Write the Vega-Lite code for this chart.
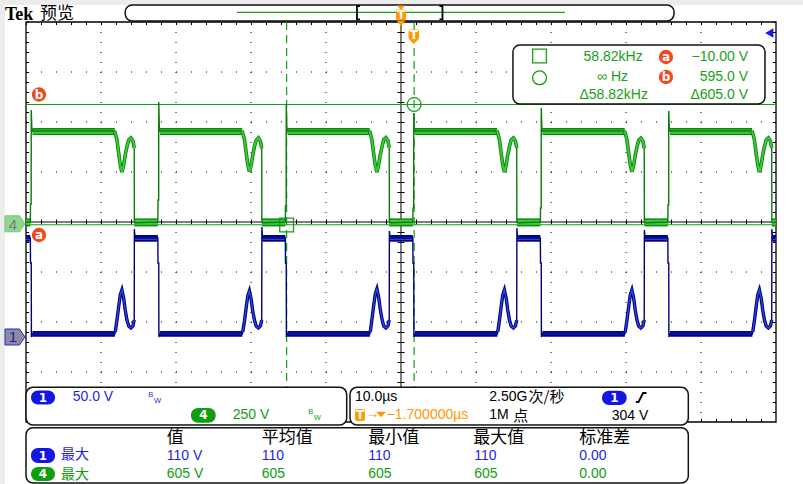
{
"$schema":"https://vega.github.io/schema/vega-lite/v6.json",
"width":803,"height":484,"padding":0,"autosize":{"type":"none"},
"background":"#ffffff",
"config":{"view":{"stroke":null},"axis":{"disable":true},"legend":{"disable":true}},
"resolve":{"scale":{"y":"independent","strokeWidth":"independent","size":"independent","color":"independent","fill":"independent","stroke":"independent"}},
"datasets":{
"g":[{"t":-50,"v":0},
{"t":-49.42,"v":0},{"t":-49.4,"v":90},{"t":-49.31,"v":90},{"t":-49.3,"v":560},{"t":-49.22,"v":470},{"t":-49.12,"v":455},
{"t":-38.2,"v":455,"p":0,"dip":1},{"t":-38.1,"v":445,"p":0,"dip":1},{"t":-37.87,"v":410,"p":0,"dip":1},{"t":-37.65,"v":345,"p":0,"dip":1},{"t":-37.43,"v":285,"p":0,"dip":1},{"t":-37.21,"v":250,"p":0,"dip":1},{"t":-36.98,"v":285,"p":0,"dip":1},{"t":-36.77,"v":335,"p":0,"dip":1},{"t":-36.54,"v":377,"p":0,"dip":1},{"t":-36.31,"v":410,"p":0,"dip":1},{"t":-36.01,"v":420,"p":0,"dip":1},{"t":-35.74,"v":405,"p":0,"dip":1},{"t":-35.57,"v":370,"p":0,"dip":1},
{"t":-35.55,"v":0},{"t":-35.4,"v":-4},
{"t":-32.42,"v":0},{"t":-32.4,"v":110},{"t":-32.31,"v":110},{"t":-32.3,"v":600},{"t":-32.22,"v":470},{"t":-32.12,"v":455},
{"t":-21.2,"v":455,"p":1,"dip":1},{"t":-21.1,"v":445,"p":1,"dip":1},{"t":-20.87,"v":412,"p":1,"dip":1},{"t":-20.65,"v":348,"p":1,"dip":1},{"t":-20.43,"v":288,"p":1,"dip":1},{"t":-20.21,"v":252,"p":1,"dip":1},{"t":-19.98,"v":283,"p":1,"dip":1},{"t":-19.77,"v":333,"p":1,"dip":1},{"t":-19.54,"v":378,"p":1,"dip":1},{"t":-19.31,"v":408,"p":1,"dip":1},{"t":-19.01,"v":420,"p":1,"dip":1},{"t":-18.74,"v":404,"p":1,"dip":1},{"t":-18.57,"v":368,"p":1,"dip":1},
{"t":-18.55,"v":0},{"t":-18.4,"v":-4},
{"t":-15.42,"v":0},{"t":-15.4,"v":80},{"t":-15.31,"v":80},{"t":-15.3,"v":590},{"t":-15.22,"v":470},{"t":-15.12,"v":455},
{"t":-4.2,"v":455,"p":2,"dip":1},{"t":-4.1,"v":445,"p":2,"dip":1},{"t":-3.87,"v":408,"p":2,"dip":1},{"t":-3.65,"v":343,"p":2,"dip":1},{"t":-3.43,"v":284,"p":2,"dip":1},{"t":-3.21,"v":249,"p":2,"dip":1},{"t":-2.98,"v":286,"p":2,"dip":1},{"t":-2.77,"v":336,"p":2,"dip":1},{"t":-2.54,"v":376,"p":2,"dip":1},{"t":-2.31,"v":411,"p":2,"dip":1},{"t":-2.01,"v":421,"p":2,"dip":1},{"t":-1.74,"v":406,"p":2,"dip":1},{"t":-1.57,"v":371,"p":2,"dip":1},
{"t":-1.55,"v":0},{"t":-1.4,"v":-4},
{"t":1.58,"v":0},{"t":1.6,"v":70},{"t":1.69,"v":70},{"t":1.7,"v":545},{"t":1.78,"v":470},{"t":1.88,"v":455},
{"t":12.8,"v":455,"p":3,"dip":1},{"t":12.9,"v":445,"p":3,"dip":1},{"t":13.13,"v":410,"p":3,"dip":1},{"t":13.35,"v":345,"p":3,"dip":1},{"t":13.57,"v":285,"p":3,"dip":1},{"t":13.79,"v":250,"p":3,"dip":1},{"t":14.02,"v":285,"p":3,"dip":1},{"t":14.23,"v":335,"p":3,"dip":1},{"t":14.46,"v":377,"p":3,"dip":1},{"t":14.69,"v":410,"p":3,"dip":1},{"t":14.99,"v":420,"p":3,"dip":1},{"t":15.26,"v":405,"p":3,"dip":1},{"t":15.43,"v":370,"p":3,"dip":1},
{"t":15.45,"v":0},{"t":15.6,"v":-4},
{"t":18.58,"v":0},{"t":18.6,"v":70},{"t":18.69,"v":70},{"t":18.7,"v":570},{"t":18.78,"v":470},{"t":18.88,"v":455},
{"t":29.8,"v":455,"p":4,"dip":1},{"t":29.9,"v":445,"p":4,"dip":1},{"t":30.13,"v":411,"p":4,"dip":1},{"t":30.35,"v":346,"p":4,"dip":1},{"t":30.57,"v":287,"p":4,"dip":1},{"t":30.79,"v":251,"p":4,"dip":1},{"t":31.02,"v":284,"p":4,"dip":1},{"t":31.23,"v":334,"p":4,"dip":1},{"t":31.46,"v":376,"p":4,"dip":1},{"t":31.69,"v":409,"p":4,"dip":1},{"t":31.99,"v":419,"p":4,"dip":1},{"t":32.26,"v":404,"p":4,"dip":1},{"t":32.43,"v":369,"p":4,"dip":1},
{"t":32.45,"v":0},{"t":32.6,"v":-4},
{"t":35.58,"v":0},{"t":35.6,"v":85},{"t":35.69,"v":85},{"t":35.7,"v":555},{"t":35.78,"v":470},{"t":35.88,"v":455},
{"t":46.8,"v":455,"p":5,"dip":1},{"t":46.9,"v":445,"p":5,"dip":1},{"t":47.13,"v":409,"p":5,"dip":1},{"t":47.35,"v":344,"p":5,"dip":1},{"t":47.57,"v":286,"p":5,"dip":1},{"t":47.79,"v":250,"p":5,"dip":1},{"t":48.02,"v":285,"p":5,"dip":1},{"t":48.23,"v":335,"p":5,"dip":1},{"t":48.46,"v":377,"p":5,"dip":1},{"t":48.69,"v":410,"p":5,"dip":1},{"t":48.99,"v":420,"p":5,"dip":1},{"t":49.26,"v":405,"p":5,"dip":1},{"t":49.43,"v":370,"p":5,"dip":1},
{"t":49.45,"v":0},{"t":49.6,"v":-4},{"t":50,"v":0}],
"b":[{"t":-50,"v":99},
{"t":-49.42,"v":99},{"t":-49.4,"v":74},{"t":-49.3,"v":74},{"t":-49.28,"v":0},{"t":-49.2,"v":2},{"t":-49.12,"v":3},{"t":-38.15,"v":3},
{"t":-38.1,"v":5,"p":0,"dip":1},{"t":-37.87,"v":17,"p":0,"dip":1},{"t":-37.65,"v":30,"p":0,"dip":1},{"t":-37.43,"v":42,"p":0,"dip":1},{"t":-37.21,"v":47,"p":0,"dip":1},{"t":-36.98,"v":39,"p":0,"dip":1},{"t":-36.77,"v":27,"p":0,"dip":1},{"t":-36.54,"v":17,"p":0,"dip":1},{"t":-36.31,"v":11,"p":0,"dip":1},{"t":-36.01,"v":9,"p":0,"dip":1},{"t":-35.74,"v":11,"p":0,"dip":1},{"t":-35.57,"v":17,"p":0,"dip":1},
{"t":-35.55,"v":108},{"t":-35.48,"v":101},{"t":-35.35,"v":99},
{"t":-32.42,"v":99},{"t":-32.4,"v":74},{"t":-32.3,"v":74},{"t":-32.28,"v":0},{"t":-32.2,"v":2},{"t":-32.12,"v":3},{"t":-21.15,"v":3},
{"t":-21.1,"v":5,"p":1,"dip":1},{"t":-20.87,"v":16,"p":1,"dip":1},{"t":-20.65,"v":29,"p":1,"dip":1},{"t":-20.43,"v":41,"p":1,"dip":1},{"t":-20.21,"v":46,"p":1,"dip":1},{"t":-19.98,"v":38,"p":1,"dip":1},{"t":-19.77,"v":26,"p":1,"dip":1},{"t":-19.54,"v":17,"p":1,"dip":1},{"t":-19.31,"v":11,"p":1,"dip":1},{"t":-19.01,"v":9,"p":1,"dip":1},{"t":-18.74,"v":11,"p":1,"dip":1},{"t":-18.57,"v":17,"p":1,"dip":1},
{"t":-18.55,"v":110},{"t":-18.48,"v":101},{"t":-18.35,"v":99},
{"t":-15.42,"v":99},{"t":-15.4,"v":74},{"t":-15.3,"v":74},{"t":-15.28,"v":0},{"t":-15.2,"v":2},{"t":-15.12,"v":3},{"t":-4.15,"v":3},
{"t":-4.1,"v":5,"p":2,"dip":1},{"t":-3.87,"v":18,"p":2,"dip":1},{"t":-3.65,"v":31,"p":2,"dip":1},{"t":-3.43,"v":43,"p":2,"dip":1},{"t":-3.21,"v":48,"p":2,"dip":1},{"t":-2.98,"v":40,"p":2,"dip":1},{"t":-2.77,"v":28,"p":2,"dip":1},{"t":-2.54,"v":18,"p":2,"dip":1},{"t":-2.31,"v":11,"p":2,"dip":1},{"t":-2.01,"v":9,"p":2,"dip":1},{"t":-1.74,"v":11,"p":2,"dip":1},{"t":-1.57,"v":17,"p":2,"dip":1},
{"t":-1.55,"v":106},{"t":-1.48,"v":101},{"t":-1.35,"v":99},
{"t":1.58,"v":99},{"t":1.6,"v":74},{"t":1.7,"v":74},{"t":1.72,"v":0},{"t":1.8,"v":2},{"t":1.88,"v":3},{"t":12.85,"v":3},
{"t":12.9,"v":5,"p":3,"dip":1},{"t":13.13,"v":17,"p":3,"dip":1},{"t":13.35,"v":30,"p":3,"dip":1},{"t":13.57,"v":42,"p":3,"dip":1},{"t":13.79,"v":47,"p":3,"dip":1},{"t":14.02,"v":39,"p":3,"dip":1},{"t":14.23,"v":27,"p":3,"dip":1},{"t":14.46,"v":17,"p":3,"dip":1},{"t":14.69,"v":11,"p":3,"dip":1},{"t":14.99,"v":9,"p":3,"dip":1},{"t":15.26,"v":11,"p":3,"dip":1},{"t":15.43,"v":17,"p":3,"dip":1},
{"t":15.45,"v":109},{"t":15.52,"v":101},{"t":15.65,"v":99},
{"t":18.58,"v":99},{"t":18.6,"v":74},{"t":18.7,"v":74},{"t":18.72,"v":0},{"t":18.8,"v":2},{"t":18.88,"v":3},{"t":29.85,"v":3},
{"t":29.9,"v":5,"p":4,"dip":1},{"t":30.13,"v":17,"p":4,"dip":1},{"t":30.35,"v":30,"p":4,"dip":1},{"t":30.57,"v":42,"p":4,"dip":1},{"t":30.79,"v":47,"p":4,"dip":1},{"t":31.02,"v":39,"p":4,"dip":1},{"t":31.23,"v":27,"p":4,"dip":1},{"t":31.46,"v":17,"p":4,"dip":1},{"t":31.69,"v":11,"p":4,"dip":1},{"t":31.99,"v":9,"p":4,"dip":1},{"t":32.26,"v":11,"p":4,"dip":1},{"t":32.43,"v":17,"p":4,"dip":1},
{"t":32.45,"v":107},{"t":32.52,"v":101},{"t":32.65,"v":99},
{"t":35.58,"v":99},{"t":35.6,"v":74},{"t":35.7,"v":74},{"t":35.72,"v":0},{"t":35.8,"v":2},{"t":35.88,"v":3},{"t":46.85,"v":3},
{"t":46.9,"v":5,"p":5,"dip":1},{"t":47.13,"v":17,"p":5,"dip":1},{"t":47.35,"v":30,"p":5,"dip":1},{"t":47.57,"v":42,"p":5,"dip":1},{"t":47.79,"v":47,"p":5,"dip":1},{"t":48.02,"v":39,"p":5,"dip":1},{"t":48.23,"v":27,"p":5,"dip":1},{"t":48.46,"v":17,"p":5,"dip":1},{"t":48.69,"v":11,"p":5,"dip":1},{"t":48.99,"v":9,"p":5,"dip":1},{"t":49.26,"v":11,"p":5,"dip":1},{"t":49.43,"v":17,"p":5,"dip":1},
{"t":49.45,"v":108},{"t":49.52,"v":101},{"t":49.65,"v":99},{"t":50,"v":99}],
"gb":[
{"t1":-49.12,"t2":-38.18,"lo":435,"hi":470,"ilo":441,"ihi":463},
{"t1":-32.12,"t2":-21.18,"lo":435,"hi":470,"ilo":441,"ihi":463},
{"t1":-15.12,"t2":-4.18,"lo":435,"hi":470,"ilo":441,"ihi":463},
{"t1":1.88,"t2":12.82,"lo":435,"hi":470,"ilo":441,"ihi":463},
{"t1":18.88,"t2":29.82,"lo":435,"hi":470,"ilo":441,"ihi":463},
{"t1":35.88,"t2":46.82,"lo":435,"hi":470,"ilo":441,"ihi":463},
{"t1":-50,"t2":-49.42,"lo":-22,"hi":18,"ilo":-14,"ihi":11},
{"t1":-35.55,"t2":-32.42,"lo":-22,"hi":18,"ilo":-14,"ihi":11},
{"t1":-18.55,"t2":-15.42,"lo":-22,"hi":18,"ilo":-14,"ihi":11},
{"t1":-1.55,"t2":1.58,"lo":-22,"hi":18,"ilo":-14,"ihi":11},
{"t1":15.45,"t2":18.58,"lo":-22,"hi":18,"ilo":-14,"ihi":11},
{"t1":32.45,"t2":35.58,"lo":-22,"hi":18,"ilo":-14,"ihi":11},
{"t1":49.45,"t2":50,"lo":-22,"hi":18,"ilo":-14,"ihi":11}],
"bb":[
{"t1":-49.15,"t2":-38.15,"lo":0.3,"hi":6,"ilo":2,"ihi":4.3},
{"t1":-32.15,"t2":-21.15,"lo":0.3,"hi":6,"ilo":2,"ihi":4.3},
{"t1":-15.15,"t2":-4.15,"lo":0.3,"hi":6,"ilo":2,"ihi":4.3},
{"t1":1.85,"t2":12.85,"lo":0.3,"hi":6,"ilo":2,"ihi":4.3},
{"t1":18.85,"t2":29.85,"lo":0.3,"hi":6,"ilo":2,"ihi":4.3},
{"t1":35.85,"t2":46.85,"lo":0.3,"hi":6,"ilo":2,"ihi":4.3},
{"t1":-50,"t2":-49.42,"lo":95.3,"hi":102,"ilo":97,"ihi":100},
{"t1":-35.5,"t2":-32.42,"lo":95.3,"hi":102,"ilo":97,"ihi":100},
{"t1":-18.5,"t2":-15.42,"lo":95.3,"hi":102,"ilo":97,"ihi":100},
{"t1":-1.5,"t2":1.58,"lo":95.3,"hi":102,"ilo":97,"ihi":100},
{"t1":15.5,"t2":18.58,"lo":95.3,"hi":102,"ilo":97,"ihi":100},
{"t1":32.5,"t2":35.58,"lo":95.3,"hi":102,"ilo":97,"ihi":100},
{"t1":49.5,"t2":50,"lo":95.3,"hi":102,"ilo":97,"ihi":100}]
},
"layer":[
{"data":{"values":[{"t1":-53.47,"t2":53.6,"d1":4.44,"d2":4.34},{"t1":-53.47,"t2":-52.8,"d1":4.34,"d2":-5.24}]},
 "mark":{"type":"rect","color":"#ececec"},
 "encoding":{"x":{"field":"t1","type":"quantitative","scale":{"domain":[-53.4667,53.6],"nice":false,"zero":false},"axis":null},"x2":{"field":"t2"},"y":{"field":"d1","type":"quantitative","scale":{"domain":[-5.24,4.44],"nice":false,"zero":false},"axis":null},"y2":{"field":"d2"}}},
{"data":{"values":[{"t":-40},{"t":-30},{"t":-20},{"t":-10},{"t":10},{"t":20},{"t":30},{"t":40}]},
 "mark":{"type":"rule","color":"#000000","strokeWidth":1,"strokeDash":[1,9]},
 "encoding":{"x":{"field":"t","type":"quantitative","scale":{"domain":[-53.4667,53.6],"nice":false,"zero":false},"axis":null},"y":{"datum":4,"type":"quantitative","scale":{"domain":[-5.24,4.44],"nice":false,"zero":false},"axis":null},"y2":{"datum":-4}}},
{"data":{"values":[{"d":-3},{"d":-2},{"d":-1},{"d":1},{"d":2},{"d":3}]},
 "mark":{"type":"rule","color":"#000000","strokeWidth":1,"strokeDash":[1,14]},
 "encoding":{"x":{"datum":-50,"type":"quantitative","scale":{"domain":[-53.4667,53.6],"nice":false,"zero":false},"axis":null},"x2":{"datum":50},"y":{"field":"d","type":"quantitative","scale":{"domain":[-5.24,4.44],"nice":false,"zero":false},"axis":null}}},
{"data":{"values":[{"t":-49.8,"k":"e"},{"t":49.8,"k":"e"},{"t":0,"k":"c"}]},
 "mark":{"type":"rule","color":"#000000","strokeDash":[1,9]},
 "encoding":{"x":{"field":"t","type":"quantitative","scale":{"domain":[-53.4667,53.6],"nice":false,"zero":false},"axis":null},"y":{"datum":4,"type":"quantitative","scale":{"domain":[-5.24,4.44],"nice":false,"zero":false},"axis":null},"y2":{"datum":-4},"strokeWidth":{"field":"k","type":"ordinal","scale":{"domain":["e","c"],"range":[3,7]},"legend":null}}},
{"data":{"values":[{"d":3.97,"k":"e"},{"d":-3.97,"k":"e"},{"d":0,"k":"c"}]},
 "mark":{"type":"rule","color":"#000000","strokeDash":[1,14]},
 "encoding":{"x":{"datum":-50,"type":"quantitative","scale":{"domain":[-53.4667,53.6],"nice":false,"zero":false},"axis":null},"x2":{"datum":50},"y":{"field":"d","type":"quantitative","scale":{"domain":[-5.24,4.44],"nice":false,"zero":false},"axis":null},"strokeWidth":{"field":"k","type":"ordinal","scale":{"domain":["e","c"],"range":[3,5]},"legend":null}}},
{"data":{"values":[{"t1":-50,"t2":50,"d1":4,"d2":-4}]},
 "mark":{"type":"rect","filled":false,"color":"#000000","strokeWidth":1.3},
 "encoding":{"x":{"field":"t1","type":"quantitative","scale":{"domain":[-53.4667,53.6],"nice":false,"zero":false},"axis":null},"x2":{"field":"t2"},"y":{"field":"d1","type":"quantitative","scale":{"domain":[-5.24,4.44],"nice":false,"zero":false},"axis":null},"y2":{"field":"d2"}}},
{"data":{"values":[{"t1":0,"t2":0,"d1":4,"d2":-4},{"t1":-50,"t2":50,"d1":0,"d2":0}]},
 "mark":{"type":"rule","color":"#000000","strokeWidth":1},
 "encoding":{"x":{"field":"t1","type":"quantitative","scale":{"domain":[-53.4667,53.6],"nice":false,"zero":false},"axis":null},"x2":{"field":"t2"},"y":{"field":"d1","type":"quantitative","scale":{"domain":[-5.24,4.44],"nice":false,"zero":false},"axis":null},"y2":{"field":"d2"}}},
{"data":{"values":[{"d":2.35},{"d":-0.055}]},
 "mark":{"type":"rule","color":"#14a014","strokeWidth":1.2},
 "encoding":{"x":{"datum":-50,"type":"quantitative","scale":{"domain":[-53.4667,53.6],"nice":false,"zero":false},"axis":null},"x2":{"datum":50},"y":{"field":"d","type":"quantitative","scale":{"domain":[-5.24,4.44],"nice":false,"zero":false},"axis":null}}},
{"data":{"values":[{"t":-15.25},{"t":1.75}]},
 "mark":{"type":"rule","color":"#14a014","strokeWidth":1.2,"strokeDash":[8,5]},
 "encoding":{"x":{"field":"t","type":"quantitative","scale":{"domain":[-53.4667,53.6],"nice":false,"zero":false},"axis":null},"y":{"datum":4,"type":"quantitative","scale":{"domain":[-5.24,4.44],"nice":false,"zero":false},"axis":null},"y2":{"datum":-4}}},
{"data":{"name":"gb"},"mark":{"type":"rect","color":"#0b870b"},
 "encoding":{"x":{"field":"t1","type":"quantitative","scale":{"domain":[-53.4667,53.6],"nice":false,"zero":false},"axis":null},"x2":{"field":"t2"},"y":{"field":"lo","type":"quantitative","scale":{"domain":[-1310,1110],"nice":false,"zero":false},"axis":null},"y2":{"field":"hi"}}},
{"data":{"name":"gb"},"mark":{"type":"rect","color":"#3bd03b"},
 "encoding":{"x":{"field":"t1","type":"quantitative","scale":{"domain":[-53.4667,53.6],"nice":false,"zero":false},"axis":null},"x2":{"field":"t2"},"y":{"field":"ilo","type":"quantitative","scale":{"domain":[-1310,1110],"nice":false,"zero":false},"axis":null},"y2":{"field":"ihi"}}},
{"data":{"name":"bb"},"mark":{"type":"rect","color":"#00008c"},
 "encoding":{"x":{"field":"t1","type":"quantitative","scale":{"domain":[-53.4667,53.6],"nice":false,"zero":false},"axis":null},"x2":{"field":"t2"},"y":{"field":"lo","type":"quantitative","scale":{"domain":[-147,337],"nice":false,"zero":false},"axis":null},"y2":{"field":"hi"}}},
{"data":{"name":"bb"},"mark":{"type":"rect","color":"#2a45d8"},
 "encoding":{"x":{"field":"t1","type":"quantitative","scale":{"domain":[-53.4667,53.6],"nice":false,"zero":false},"axis":null},"x2":{"field":"t2"},"y":{"field":"ilo","type":"quantitative","scale":{"domain":[-147,337],"nice":false,"zero":false},"axis":null},"y2":{"field":"ihi"}}},
{"data":{"name":"g"},"mark":{"type":"line","color":"#0a7c0a","strokeWidth":1.4},
 "encoding":{"x":{"field":"t","type":"quantitative","scale":{"domain":[-53.4667,53.6],"nice":false,"zero":false},"axis":null},"y":{"field":"v","type":"quantitative","scale":{"domain":[-1310,1110],"nice":false,"zero":false},"axis":null}}},
{"data":{"name":"g"},"transform":[{"filter":"datum.dip === 1"}],"mark":{"type":"line","color":"#0a7c0a","strokeWidth":3.6},
 "encoding":{"x":{"field":"t","type":"quantitative","scale":{"domain":[-53.4667,53.6],"nice":false,"zero":false},"axis":null},"y":{"field":"v","type":"quantitative","scale":{"domain":[-1310,1110],"nice":false,"zero":false},"axis":null},"detail":{"field":"p","type":"nominal"}}},
{"data":{"name":"g"},"transform":[{"filter":"datum.dip === 1"}],"mark":{"type":"line","color":"#36cc36","strokeWidth":2},
 "encoding":{"x":{"field":"t","type":"quantitative","scale":{"domain":[-53.4667,53.6],"nice":false,"zero":false},"axis":null},"y":{"field":"v","type":"quantitative","scale":{"domain":[-1310,1110],"nice":false,"zero":false},"axis":null},"detail":{"field":"p","type":"nominal"}}},
{"data":{"name":"b"},"mark":{"type":"line","color":"#00007c","strokeWidth":1.4},
 "encoding":{"x":{"field":"t","type":"quantitative","scale":{"domain":[-53.4667,53.6],"nice":false,"zero":false},"axis":null},"y":{"field":"v","type":"quantitative","scale":{"domain":[-147,337],"nice":false,"zero":false},"axis":null}}},
{"data":{"name":"b"},"transform":[{"filter":"datum.dip === 1"}],"mark":{"type":"line","color":"#00007c","strokeWidth":3.4},
 "encoding":{"x":{"field":"t","type":"quantitative","scale":{"domain":[-53.4667,53.6],"nice":false,"zero":false},"axis":null},"y":{"field":"v","type":"quantitative","scale":{"domain":[-147,337],"nice":false,"zero":false},"axis":null},"detail":{"field":"p","type":"nominal"}}},
{"data":{"name":"b"},"transform":[{"filter":"datum.dip === 1"}],"mark":{"type":"line","color":"#2a45d8","strokeWidth":1.4},
 "encoding":{"x":{"field":"t","type":"quantitative","scale":{"domain":[-53.4667,53.6],"nice":false,"zero":false},"axis":null},"y":{"field":"v","type":"quantitative","scale":{"domain":[-147,337],"nice":false,"zero":false},"axis":null},"detail":{"field":"p","type":"nominal"}}},
{"data":{"values":[{"t":-15.25,"d":-0.06,"s":"square"},{"t":1.75,"d":2.35,"s":"circle"}]},
 "mark":{"type":"point","filled":false,"color":"#14a014","strokeWidth":1.3,"size":190,"opacity":1},
 "encoding":{"x":{"field":"t","type":"quantitative","scale":{"domain":[-53.4667,53.6],"nice":false,"zero":false},"axis":null},"y":{"field":"d","type":"quantitative","scale":{"domain":[-5.24,4.44],"nice":false,"zero":false},"axis":null},"shape":{"field":"s","type":"nominal","scale":null}}},
{"data":{"values":[{"t1":-36.77,"t2":36.4,"d1":4.34,"d2":4.02,"k":"bar"},{"t1":14.93,"t2":48.53,"d1":3.54,"d2":2.36,"k":"box"},{"t1":-50,"t2":-7.24,"d1":-3.306,"d2":-4.06,"k":"box"},{"t1":-6.8,"t2":38.31,"d1":-3.306,"d2":-4.06,"k":"box"},{"t1":-50,"t2":38.31,"d1":-4.114,"d2":-5.22,"k":"box"}]},
 "mark":{"type":"rect","fill":"#ffffff","stroke":"#111111","strokeWidth":1.5,"cornerRadius":7},
 "encoding":{"x":{"field":"t1","type":"quantitative","scale":{"domain":[-53.4667,53.6],"nice":false,"zero":false},"axis":null},"x2":{"field":"t2"},"y":{"field":"d1","type":"quantitative","scale":{"domain":[-5.24,4.44],"nice":false,"zero":false},"axis":null},"y2":{"field":"d2"}}},
{"data":{"values":[{"t1":-21.87,"t2":21.87,"d":4.194}]},
 "mark":{"type":"rule","color":"#14a014","strokeWidth":1.3},
 "encoding":{"x":{"field":"t1","type":"quantitative","scale":{"domain":[-53.4667,53.6],"nice":false,"zero":false},"axis":null},"x2":{"field":"t2"},"y":{"field":"d","type":"quantitative","scale":{"domain":[-5.24,4.44],"nice":false,"zero":false},"axis":null}}},
{"data":{"values":[{"t1":-49.33,"t2":-46.13,"d1":-3.37,"d2":-3.65,"k":"1"},{"t1":26.8,"t2":30.09,"d1":-3.374,"d2":-3.66,"k":"1"},{"t1":-49.33,"t2":-46.13,"d1":-4.52,"d2":-4.82,"k":"1"},{"t1":-28.0,"t2":-24.71,"d1":-3.72,"d2":-4.014,"k":"4"},{"t1":-49.33,"t2":-46.13,"d1":-4.9,"d2":-5.18,"k":"4"}]},
 "mark":{"type":"rect","cornerRadius":7},
 "encoding":{"x":{"field":"t1","type":"quantitative","scale":{"domain":[-53.4667,53.6],"nice":false,"zero":false},"axis":null},"x2":{"field":"t2"},"y":{"field":"d1","type":"quantitative","scale":{"domain":[-5.24,4.44],"nice":false,"zero":false},"axis":null},"y2":{"field":"d2"},"color":{"field":"k","type":"nominal","scale":{"domain":["1","4"],"range":["#1616e2","#0ca00c"]},"legend":null}}},
{"data":{"values":[{"t1":-0.667,"t2":0.667,"d1":4.25,"d2":4.03},{"t1":1.0,"t2":2.4,"d1":3.85,"d2":3.65},{"t1":-6.13,"t2":-4.8,"d1":-3.74,"d2":-3.98}]},
 "mark":{"type":"rect","color":"#ff9a00","cornerRadius":2},
 "encoding":{"x":{"field":"t1","type":"quantitative","scale":{"domain":[-53.4667,53.6],"nice":false,"zero":false},"axis":null},"x2":{"field":"t2"},"y":{"field":"d1","type":"quantitative","scale":{"domain":[-5.24,4.44],"nice":false,"zero":false},"axis":null},"y2":{"field":"d2"}}},
{"data":{"values":[{"t":0,"d":4.286,"k":"a"},{"t":0,"d":3.97,"k":"b"},{"t":1.7,"d":3.606,"k":"c"},{"t":-2.67,"d":-3.85,"k":"d"}]},
 "mark":{"type":"point","shape":"M-1,-0.55L1,-0.55L0,0.55Z","filled":true,"color":"#ff9a00","opacity":1},
 "encoding":{"x":{"field":"t","type":"quantitative","scale":{"domain":[-53.4667,53.6],"nice":false,"zero":false},"axis":null},"y":{"field":"d","type":"quantitative","scale":{"domain":[-5.24,4.44],"nice":false,"zero":false},"axis":null},"size":{"field":"k","type":"ordinal","scale":{"domain":["a","b","c","d"],"range":[64,100,121,70]},"legend":null}}},
{"data":{"values":[{"t":-5.47,"d":4.32,"id":"l","o":1},{"t":-5.87,"d":4.32,"id":"l","o":2},{"t":-5.87,"d":4.054,"id":"l","o":3},{"t":-5.47,"d":4.054,"id":"l","o":4},{"t":5.13,"d":4.32,"id":"r","o":1},{"t":5.53,"d":4.32,"id":"r","o":2},{"t":5.53,"d":4.054,"id":"r","o":3},{"t":5.13,"d":4.054,"id":"r","o":4},{"t":31.33,"d":-3.6,"id":"s","o":1},{"t":31.67,"d":-3.6,"id":"s","o":2},{"t":32.27,"d":-3.42,"id":"s","o":3},{"t":32.73,"d":-3.42,"id":"s","o":4}]},
 "mark":{"type":"line","color":"#000000","strokeWidth":1.8},
 "encoding":{"x":{"field":"t","type":"quantitative","scale":{"domain":[-53.4667,53.6],"nice":false,"zero":false},"axis":null},"y":{"field":"d","type":"quantitative","scale":{"domain":[-5.24,4.44],"nice":false,"zero":false},"axis":null},"detail":{"field":"id","type":"nominal"},"order":{"field":"o","type":"quantitative"}}},
{"data":{"values":[{"t":18.47,"d":3.32,"s":"square"},{"t":18.47,"d":2.884,"s":"circle"}]},
 "mark":{"type":"point","filled":false,"color":"#14a014","strokeWidth":1.3,"size":190,"opacity":1},
 "encoding":{"x":{"field":"t","type":"quantitative","scale":{"domain":[-53.4667,53.6],"nice":false,"zero":false},"axis":null},"y":{"field":"d","type":"quantitative","scale":{"domain":[-5.24,4.44],"nice":false,"zero":false},"axis":null},"shape":{"field":"s","type":"nominal","scale":null}}},
{"data":{"values":[{"t":-51.47,"d":-0.036,"k":"4"},{"t":-51.47,"d":-2.3,"k":"1"}]},
 "mark":{"type":"point","shape":"M-1,-0.8L0.45,-0.8L1,0L0.45,0.8L-1,0.8Z","size":400,"filled":true,"opacity":1,"strokeWidth":1},
 "encoding":{"x":{"field":"t","type":"quantitative","scale":{"domain":[-53.4667,53.6],"nice":false,"zero":false},"axis":null},"y":{"field":"d","type":"quantitative","scale":{"domain":[-5.24,4.44],"nice":false,"zero":false},"axis":null},"fill":{"field":"k","type":"nominal","scale":{"domain":["4","1"],"range":["#8fd68f","#8c8c9e"]},"legend":null},"stroke":{"field":"k","type":"nominal","scale":{"domain":["4","1"],"range":["#74c474","#2626d6"]},"legend":null}}},
{"data":{"values":[{"t":-48.27,"d":2.55},{"t":-48.27,"d":-0.26},{"t":35.33,"d":3.3},{"t":35.33,"d":2.9}]},
 "mark":{"type":"point","shape":"circle","filled":true,"color":"#f5461c","size":205,"opacity":1},
 "encoding":{"x":{"field":"t","type":"quantitative","scale":{"domain":[-53.4667,53.6],"nice":false,"zero":false},"axis":null},"y":{"field":"d","type":"quantitative","scale":{"domain":[-5.24,4.44],"nice":false,"zero":false},"axis":null}}},
{"data":{"values":[{"t":49.1,"d":3.78}]},
 "mark":{"type":"point","shape":"triangle-left","filled":true,"color":"#1a1ae6","size":90,"opacity":1},
 "encoding":{"x":{"field":"t","type":"quantitative","scale":{"domain":[-53.4667,53.6],"nice":false,"zero":false},"axis":null},"y":{"field":"d","type":"quantitative","scale":{"domain":[-5.24,4.44],"nice":false,"zero":false},"axis":null}}},
{"data":{"values":[
 {"t":-43.77,"d":-3.5,"s":"50.0 V","c":"b"},
 {"t":-22.44,"d":-3.86,"s":"250 V","c":"g"},
 {"t":-6.13,"d":-3.5,"s":"10.0µs","c":"k"},
 {"t":11.77,"d":-3.5,"s":"2.50G","c":"k"},
 {"t":11.77,"d":-3.86,"s":"1M","c":"k"},
 {"t":-4.73,"d":-3.84,"s":"→","c":"o"},
 {"t":-1.91,"d":-3.86,"s":"−1.700000µs","c":"o"},
 {"t":-31.24,"d":-4.68,"s":"110 V","c":"b"},
 {"t":-18.57,"d":-4.68,"s":"110","c":"b"},
 {"t":-4.36,"d":-4.68,"s":"110","c":"b"},
 {"t":9.77,"d":-4.68,"s":"110","c":"b"},
 {"t":23.77,"d":-4.68,"s":"0.00","c":"b"},
 {"t":-31.24,"d":-5.04,"s":"605 V","c":"g"},
 {"t":-18.57,"d":-5.04,"s":"605","c":"g"},
 {"t":-4.36,"d":-5.04,"s":"605","c":"g"},
 {"t":9.77,"d":-5.04,"s":"605","c":"g"},
 {"t":23.77,"d":-5.04,"s":"0.00","c":"g"}]},
 "mark":{"type":"text","align":"left","baseline":"middle","font":"Liberation Sans, DejaVu Sans","fontSize":14},
 "encoding":{"x":{"field":"t","type":"quantitative","scale":{"domain":[-53.4667,53.6],"nice":false,"zero":false},"axis":null},"y":{"field":"d","type":"quantitative","scale":{"domain":[-5.24,4.44],"nice":false,"zero":false},"axis":null},"text":{"field":"s"},"color":{"field":"c","type":"nominal","scale":{"domain":["k","b","g","o"],"range":["#000000","#1f1fe6","#129c12","#ff9900"]},"legend":null}}},
{"data":{"values":[
 {"t":32.23,"d":3.31,"s":"58.82kHz","c":"g"},
 {"t":46.27,"d":3.31,"s":"−10.00 V","c":"g"},
 {"t":30.27,"d":2.9,"s":"∞ Hz","c":"g"},
 {"t":46.27,"d":2.9,"s":"595.0 V","c":"g"},
 {"t":32.93,"d":2.534,"s":"Δ58.82kHz","c":"g"},
 {"t":46.27,"d":2.534,"s":"Δ605.0 V","c":"g"},
 {"t":32.97,"d":-3.874,"s":"304 V","c":"k"}]},
 "mark":{"type":"text","align":"right","baseline":"middle","font":"Liberation Sans, DejaVu Sans","fontSize":14},
 "encoding":{"x":{"field":"t","type":"quantitative","scale":{"domain":[-53.4667,53.6],"nice":false,"zero":false},"axis":null},"y":{"field":"d","type":"quantitative","scale":{"domain":[-5.24,4.44],"nice":false,"zero":false},"axis":null},"text":{"field":"s"},"color":{"field":"c","type":"nominal","scale":{"domain":["k","g"],"range":["#000000","#17a017"]},"legend":null}}},
{"data":{"values":[
 {"t":-31.24,"d":-4.31,"s":"值","c":"k"},
 {"t":-18.57,"d":-4.31,"s":"平均值","c":"k"},
 {"t":-4.36,"d":-4.31,"s":"最小值","c":"k"},
 {"t":9.64,"d":-4.31,"s":"最大值","c":"k"},
 {"t":23.77,"d":-4.31,"s":"标准差","c":"k"},
 {"t":-48.13,"d":4.16,"s":"预览","c":"k"}]},
 "mark":{"type":"text","align":"left","baseline":"middle","font":"Noto Sans CJK SC","fontSize":17},
 "encoding":{"x":{"field":"t","type":"quantitative","scale":{"domain":[-53.4667,53.6],"nice":false,"zero":false},"axis":null},"y":{"field":"d","type":"quantitative","scale":{"domain":[-5.24,4.44],"nice":false,"zero":false},"axis":null},"text":{"field":"s"},"color":{"field":"c","type":"nominal","scale":{"domain":["k","b","g"],"range":["#000000","#1f1fe6","#129c12"]},"legend":null}}},
{"data":{"values":[
 {"t":-45.33,"d":-4.66,"s":"最大","c":"b"},
 {"t":-45.33,"d":-5.06,"s":"最大","c":"g"}]},
 "mark":{"type":"text","align":"left","baseline":"middle","font":"Noto Sans CJK SC","fontSize":14},
 "encoding":{"x":{"field":"t","type":"quantitative","scale":{"domain":[-53.4667,53.6],"nice":false,"zero":false},"axis":null},"y":{"field":"d","type":"quantitative","scale":{"domain":[-5.24,4.44],"nice":false,"zero":false},"axis":null},"text":{"field":"s"},"color":{"field":"c","type":"nominal","scale":{"domain":["b","g"],"range":["#1f1fe6","#129c12"]},"legend":null}}},
{"data":{"values":[{"t":17.0,"d":-3.5,"s":"次/秒"},{"t":14.97,"d":-3.87,"s":"点"}]},
 "mark":{"type":"text","align":"left","baseline":"middle","font":"Noto Sans CJK SC","fontSize":15,"color":"#000000"},
 "encoding":{"x":{"field":"t","type":"quantitative","scale":{"domain":[-53.4667,53.6],"nice":false,"zero":false},"axis":null},"y":{"field":"d","type":"quantitative","scale":{"domain":[-5.24,4.44],"nice":false,"zero":false},"axis":null},"text":{"field":"s"}}},
{"data":{"values":[
 {"t":-47.73,"d":-3.51,"s":"1"},{"t":28.45,"d":-3.517,"s":"1"},{"t":-47.73,"d":-4.67,"s":"1"},{"t":-26.35,"d":-3.867,"s":"4"},{"t":-47.73,"d":-5.04,"s":"4"},
 {"t":0,"d":4.14,"s":"T"},{"t":1.7,"d":3.75,"s":"T"},{"t":-5.47,"d":-3.86,"s":"T"},
 {"t":-48.27,"d":2.55,"s":"b"},{"t":-48.27,"d":-0.26,"s":"a"},{"t":35.33,"d":3.3,"s":"a"},{"t":35.33,"d":2.9,"s":"b"}]},
 "mark":{"type":"text","align":"center","baseline":"middle","font":"DejaVu Sans","fontWeight":"bold","fontSize":12,"color":"#ffffff"},
 "encoding":{"x":{"field":"t","type":"quantitative","scale":{"domain":[-53.4667,53.6],"nice":false,"zero":false},"axis":null},"y":{"field":"d","type":"quantitative","scale":{"domain":[-5.24,4.44],"nice":false,"zero":false},"axis":null},"text":{"field":"s"}}},
{"data":{"values":[{"t":-51.73,"d":-0.05,"s":"4","c":"4"},{"t":-51.73,"d":-2.3,"s":"1","c":"1"}]},
 "mark":{"type":"text","align":"center","baseline":"middle","font":"Liberation Sans","fontSize":15},
 "encoding":{"x":{"field":"t","type":"quantitative","scale":{"domain":[-53.4667,53.6],"nice":false,"zero":false},"axis":null},"y":{"field":"d","type":"quantitative","scale":{"domain":[-5.24,4.44],"nice":false,"zero":false},"axis":null},"text":{"field":"s"},"color":{"field":"c","type":"nominal","scale":{"domain":["4","1"],"range":["#7a7a7a","#1e1e9e"]},"legend":null}}},
{"data":{"values":[{"t":-52.8,"d":4.05,"s":"Tek"}]},
 "mark":{"type":"text","align":"left","baseline":"alphabetic","font":"Liberation Serif","fontWeight":"bold","fontSize":18,"color":"#000000"},
 "encoding":{"x":{"field":"t","type":"quantitative","scale":{"domain":[-53.4667,53.6],"nice":false,"zero":false},"axis":null},"y":{"field":"d","type":"quantitative","scale":{"domain":[-5.24,4.44],"nice":false,"zero":false},"axis":null},"text":{"field":"s"}}},
{"data":{"values":[{"t":-33.69,"d":-3.46,"s":"B","c":"b"},{"t":-32.95,"d":-3.58,"s":"W","c":"b"},{"t":-12.36,"d":-3.8,"s":"B","c":"g"},{"t":-11.62,"d":-3.92,"s":"W","c":"g"}]},
 "mark":{"type":"text","align":"left","baseline":"middle","font":"Liberation Sans","fontSize":7.5},
 "encoding":{"x":{"field":"t","type":"quantitative","scale":{"domain":[-53.4667,53.6],"nice":false,"zero":false},"axis":null},"y":{"field":"d","type":"quantitative","scale":{"domain":[-5.24,4.44],"nice":false,"zero":false},"axis":null},"text":{"field":"s"},"color":{"field":"c","type":"nominal","scale":{"domain":["b","g"],"range":["#1f1fe6","#129c12"]},"legend":null}}}
]
}
